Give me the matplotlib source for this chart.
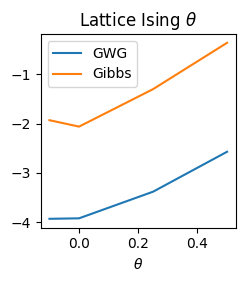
import matplotlib
matplotlib.use("Agg")
import matplotlib.pyplot as plt

theta = [-0.1, 0.0, 0.25, 0.5]
gwg = [-3.93, -3.92, -3.38, -2.57]
gibbs = [-1.93, -2.06, -1.30, -0.36]

fig = plt.figure(figsize=(2.43, 2.81), dpi=100)
ax = fig.add_axes([0.167, 0.19, 0.804, 0.689])
ax.plot(theta, gwg, label="GWG")
ax.plot(theta, gibbs, label="Gibbs")
ax.set_title(r"Lattice Ising $\theta$")
ax.set_xlabel(r"$\theta$")
ax.legend()
fig.savefig("out.png", dpi=100)
